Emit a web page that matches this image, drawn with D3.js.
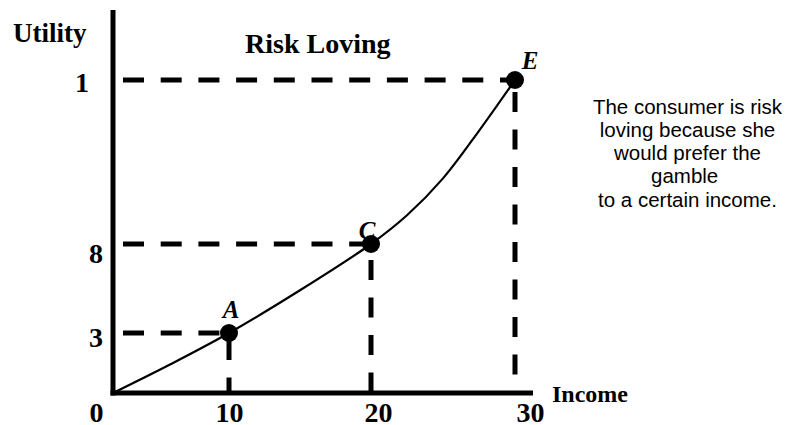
<!DOCTYPE html>
<html>
<head>
<meta charset="utf-8">
<script src="https://cdn.jsdelivr.net/npm/d3@7"></script>
<style>
  html, body { margin: 0; padding: 0; background: #fff; }
  svg { display: block; }
  .serif { font-family: "Liberation Serif", "Times New Roman", serif; font-weight: bold; }
</style>
</head>
<body>
<svg id="chart" width="789" height="425"></svg>
<script>
// ---- data ----
const incomeTicks = [0, 10, 20, 30];
const incomeTickLabels = ["0", "10", "20", "30"];
const utilityTicks = [3, 8, 10];
const utilityTickLabels = ["3", "8", "1"];

const pointNames = ["A", "C", "E"];
const pointIncome = [10, 20, 30];
const pointUtility = [3, 8, 10];

// utility curve
const curveIncome  = [0, 5, 10, 15, 20, 22.5, 25, 27.5, 30];
const curveUtility = [0, 1.45, 3, 5.4, 8, 8.35, 8.80, 9.38, 10];

const title = "Risk Loving";
const yTitle = "Utility";
const xTitle = "Income";
const noteLines = ["The consumer is risk", "loving because she", "would prefer the", "gamble ", "to a certain income."];

// ---- layout ----
const svg = d3.select("#chart");
const x = d3.scaleLinear().domain([0, 10, 20, 30]).range([113, 229, 371, 515]);
const y = d3.scaleLinear().domain([0, 3, 8, 10]).range([393, 333, 244, 80]);

const dashH = "21,16.7";
const dashV = "20,17.5";

// dashed guide lines (horizontal)
const pts = pointNames.map((n, i) => ({ name: n, inc: pointIncome[i], ut: pointUtility[i] }));
svg.selectAll("line.h").data(pts).enter().append("line")
  .attr("x1", 123).attr("x2", d => x(d.inc))
  .attr("y1", d => y(d.ut)).attr("y2", d => y(d.ut))
  .attr("stroke", "#000").attr("stroke-width", 5).attr("stroke-dasharray", dashH);

// dashed guide lines (vertical)
const vStart = [7, 16, 12];
svg.selectAll("line.v").data(pts).enter().append("line")
  .attr("x1", d => x(d.inc)).attr("x2", d => x(d.inc))
  .attr("y1", (d, i) => y(d.ut) + vStart[i]).attr("y2", y(0))
  .attr("stroke", "#000").attr("stroke-width", 5).attr("stroke-dasharray", dashV);

// axes lines
svg.append("line").attr("x1", 113).attr("x2", 113).attr("y1", 10).attr("y2", 395.5)
  .attr("stroke", "#000").attr("stroke-width", 5);
svg.append("line").attr("x1", 110.5).attr("x2", 533).attr("y1", y(0)).attr("y2", y(0))
  .attr("stroke", "#000").attr("stroke-width", 5);

// curve
const curveData = curveIncome.map((v, i) => [v, curveUtility[i]]);
svg.append("path").datum(curveData)
  .attr("d", d3.line().x(d => x(d[0])).y(d => y(d[1])).curve(d3.curveCatmullRom.alpha(0.5)))
  .attr("fill", "none").attr("stroke", "#000").attr("stroke-width", 2.2);

// points
svg.selectAll("circle.pt").data(pts).enter().append("circle")
  .attr("cx", d => x(d.inc)).attr("cy", d => y(d.ut)).attr("r", 9).attr("fill", "#000");

// point labels
const lblDx = [2, -4, 15];
const lblDy = [-15, -5, -11];
svg.selectAll("text.pl").data(pts).enter().append("text")
  .attr("class", "serif")
  .attr("x", (d, i) => x(d.inc) + lblDx[i]).attr("y", (d, i) => y(d.ut) + lblDy[i])
  .attr("text-anchor", "middle").attr("font-size", 25).attr("font-style", "italic")
  .text(d => d.name);

// x axis tick labels via d3 axis
const xLabelNudge = [-17, 0, 7, 15];
const xAxis = svg.append("g").attr("transform", `translate(0,${y(0)})`)
  .call(d3.axisBottom(x).tickValues(incomeTicks).tickSize(0).tickFormat((d, i) => incomeTickLabels[i]));
xAxis.select(".domain").remove();
xAxis.selectAll("text")
  .attr("class", "serif").attr("font-size", 28).attr("fill", "#000")
  .attr("dy", null).attr("y", 29)
  .attr("dx", (d, i) => xLabelNudge[i]);

// y axis tick labels via d3 axis
const yLabelNudge = [0, 0, -14];
const yAxis = svg.append("g").attr("transform", "translate(103,0)")
  .call(d3.axisLeft(y).tickValues(utilityTicks).tickSize(0).tickPadding(0).tickFormat((d, i) => utilityTickLabels[i]));
yAxis.select(".domain").remove();
yAxis.selectAll("text")
  .attr("class", "serif").attr("font-size", 28).attr("fill", "#000")
  .attr("dy", "0.32em").attr("x", 0)
  .attr("dx", (d, i) => yLabelNudge[i])
  .attr("y", (d, i) => [5, 10, 3][i]);

// titles
svg.append("text").attr("class", "serif").attr("x", 13).attr("y", 42)
  .attr("font-size", 27).text(yTitle);
svg.append("text").attr("class", "serif").attr("x", 245).attr("y", 53)
  .attr("font-size", 28).text(title);
svg.append("text").attr("class", "serif").attr("x", 552).attr("y", 402)
  .attr("font-size", 24).text(xTitle);

// note
const noteY = [114, 137, 160, 183, 207];
svg.selectAll("text.note").data(noteLines).enter().append("text")
  .attr("x", 687.5).attr("y", (d, i) => noteY[i])
  .attr("text-anchor", "middle")
  .style("white-space", "pre")
  .attr("font-family", "'Liberation Sans', Arial, sans-serif")
  .attr("font-size", 20.5).attr("fill", "#000")
  .text(d => d);
</script>
</body>
</html>
